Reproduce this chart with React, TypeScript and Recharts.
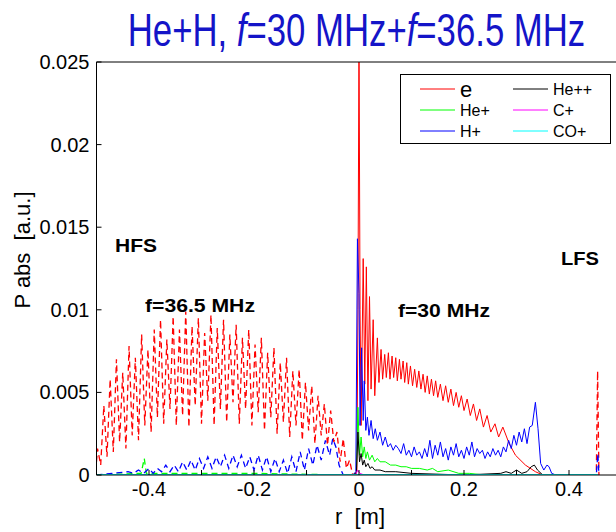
import React from 'react'
import { LineChart, Line, XAxis, YAxis } from 'recharts'

// r [m], P abs [a.u.] — f=36.5 MHz run (dashed, HFS side)
const eLeft = [
  [-0.5, 0.0008], [-0.498, 0.0016], [-0.492, 0.0006], [-0.486, 0.0042], [-0.48, 0.0011], [-0.474, 0.0058],
  [-0.468, 0.0014], [-0.462, 0.007], [-0.456, 0.002], [-0.45, 0.0062], [-0.444, 0.0016], [-0.438, 0.0078],
  [-0.432, 0.0024], [-0.426, 0.0071], [-0.42, 0.0021], [-0.414, 0.0085], [-0.408, 0.003], [-0.402, 0.0076],
  [-0.396, 0.0026], [-0.39, 0.0088], [-0.384, 0.0035], [-0.378, 0.0094], [-0.372, 0.0031], [-0.366, 0.0082],
  [-0.36, 0.004], [-0.354, 0.0096], [-0.348, 0.003], [-0.342, 0.0088], [-0.336, 0.0036], [-0.33, 0.0099],
  [-0.324, 0.0029], [-0.318, 0.009], [-0.312, 0.0042], [-0.306, 0.0095], [-0.3, 0.0031], [-0.294, 0.0086],
  [-0.288, 0.0045], [-0.282, 0.0097], [-0.276, 0.003], [-0.27, 0.0089], [-0.264, 0.004], [-0.258, 0.0094],
  [-0.252, 0.0032], [-0.246, 0.0085], [-0.24, 0.0044], [-0.234, 0.0091], [-0.228, 0.0031], [-0.222, 0.0083],
  [-0.216, 0.004], [-0.21, 0.0088], [-0.204, 0.003], [-0.198, 0.0079], [-0.192, 0.0038], [-0.186, 0.0083],
  [-0.18, 0.0027], [-0.174, 0.0074], [-0.168, 0.0035], [-0.162, 0.0077], [-0.156, 0.0025], [-0.15, 0.0068],
  [-0.144, 0.0032], [-0.138, 0.0071], [-0.132, 0.0023], [-0.126, 0.0063], [-0.12, 0.003], [-0.114, 0.0064],
  [-0.108, 0.0021], [-0.102, 0.0056], [-0.096, 0.0027], [-0.09, 0.0054], [-0.084, 0.0019], [-0.078, 0.0048],
  [-0.072, 0.0024], [-0.066, 0.0043], [-0.06, 0.0018], [-0.054, 0.0039], [-0.048, 0.002], [-0.042, 0.0026],
  [-0.036, 0.0008], [-0.03, 0.0022], [-0.024, 0.0004], [-0.018, 0.0009], [-0.012, 0],
  [0.452, 0], [0.4545, 0.0063], [0.457, 0],
]
const hpLeft = [
  [-0.5, 0], [-0.47, 0.0001], [-0.44, 0.0002], [-0.43, 0.0001], [-0.42, 0.0003], [-0.41, 0.0001], [-0.4, 0.0004],
  [-0.392, 0.0001], [-0.384, 0.0004], [-0.376, 0.0002], [-0.368, 0.0006], [-0.36, 0.0002], [-0.352, 0.0006],
  [-0.344, 0.0002], [-0.336, 0.0008], [-0.328, 0.0003], [-0.32, 0.0009], [-0.312, 0.0003], [-0.304, 0.001],
  [-0.296, 0.0004], [-0.288, 0.0011], [-0.28, 0.0004], [-0.272, 0.0011], [-0.264, 0.0005], [-0.256, 0.0012],
  [-0.248, 0.0004], [-0.24, 0.0012], [-0.232, 0.0005], [-0.224, 0.0012], [-0.216, 0.0004], [-0.208, 0.0011],
  [-0.2, 0.0003], [-0.192, 0.0012], [-0.184, 0.0003], [-0.176, 0.0011], [-0.168, 0.0002], [-0.16, 0.001],
  [-0.152, 0.0002], [-0.144, 0.0009], [-0.136, 0.0001], [-0.128, 0.0011], [-0.12, 0.0002], [-0.112, 0.0014],
  [-0.104, 0.0003], [-0.096, 0.0016], [-0.088, 0.0006], [-0.08, 0.0018], [-0.072, 0.0009], [-0.064, 0.0021],
  [-0.056, 0.0012], [-0.05, 0.0022], [-0.044, 0.0017], [-0.038, 0.0006], [-0.03, 0],
  [0.452, 0], [0.455, 0.0013], [0.457, 0],
]
const hePLeft = [
  [-0.5, 0], [-0.415, 0.0001], [-0.409, 0.001], [-0.405, 0.0001], [-0.3, 0.0001], [-0.2, 0.0001], [-0.03, 0],
]

// f=30 MHz run (solid, LFS side)
const eRight = [
  [-0.012, 0], [-0.004, 0.0002], [-0.002, 0.01], [0, 0.027], [0.002, 0.01], [0.004, 0.003],
  [0.008, 0.0131], [0.011, 0.0055], [0.014, 0.0126], [0.017, 0.0045], [0.02, 0.0108], [0.023, 0.0052],
  [0.027, 0.0094], [0.03, 0.0048], [0.035, 0.0083], [0.038, 0.0056], [0.042, 0.0076], [0.045, 0.0058],
  [0.049, 0.0073], [0.052, 0.0059], [0.056, 0.0074], [0.059, 0.0058], [0.063, 0.0072], [0.066, 0.0059],
  [0.07, 0.0071], [0.073, 0.0057], [0.077, 0.007], [0.08, 0.0058], [0.084, 0.0069], [0.087, 0.0056],
  [0.091, 0.0068], [0.094, 0.0055], [0.098, 0.0066], [0.102, 0.0054], [0.106, 0.0064], [0.11, 0.0053],
  [0.114, 0.0063], [0.118, 0.0052], [0.122, 0.0061], [0.126, 0.005], [0.13, 0.006], [0.134, 0.0049],
  [0.138, 0.0058], [0.142, 0.0048], [0.146, 0.0057], [0.15, 0.0047], [0.155, 0.0055], [0.16, 0.0045],
  [0.165, 0.0054], [0.17, 0.0044], [0.175, 0.0052], [0.18, 0.0042], [0.185, 0.005], [0.19, 0.0041],
  [0.195, 0.0048], [0.2, 0.0039], [0.206, 0.0046], [0.212, 0.0036], [0.218, 0.0043], [0.224, 0.0033],
  [0.23, 0.004], [0.237, 0.0029], [0.244, 0.0036], [0.251, 0.0026], [0.259, 0.0031], [0.266, 0.0023],
  [0.274, 0.0029], [0.286, 0.0019], [0.298, 0.0012], [0.317, 0.0006], [0.336, 0.0002], [0.35, 0], [0.44, 0],
]
const hpRight = [
  [-0.012, 0], [-0.006, 0.0002], [-0.003, 0.0143], [0, 0.011], [0.002, 0.003], [0.005, 0.0077],
  [0.008, 0.0033], [0.01, 0.0057], [0.013, 0.0027], [0.016, 0.0035], [0.019, 0.0024], [0.023, 0.0033],
  [0.027, 0.0022], [0.031, 0.0028], [0.035, 0.0021], [0.04, 0.0026], [0.045, 0.0018], [0.05, 0.0023],
  [0.055, 0.0017], [0.06, 0.0019], [0.065, 0.0015], [0.07, 0.0018], [0.075, 0.0016], [0.08, 0.0013],
  [0.085, 0.0019], [0.09, 0.0012], [0.095, 0.0015], [0.1, 0.0011], [0.105, 0.0017], [0.11, 0.0012],
  [0.115, 0.0014], [0.12, 0.001], [0.125, 0.0016], [0.13, 0.0011], [0.135, 0.0021], [0.14, 0.001],
  [0.145, 0.0018], [0.15, 0.0012], [0.155, 0.002], [0.16, 0.0011], [0.165, 0.0016], [0.17, 0.0009],
  [0.175, 0.0017], [0.18, 0.0012], [0.185, 0.0019], [0.19, 0.0011], [0.195, 0.0015], [0.2, 0.001],
  [0.205, 0.0017], [0.21, 0.0012], [0.215, 0.002], [0.22, 0.0011], [0.225, 0.0016], [0.23, 0.0013],
  [0.235, 0.0015], [0.24, 0.001], [0.245, 0.0014], [0.25, 0.0011], [0.255, 0.0016], [0.26, 0.0012],
  [0.265, 0.0015], [0.27, 0.0011], [0.275, 0.0017], [0.28, 0.0014], [0.285, 0.0021], [0.29, 0.0016],
  [0.295, 0.0024], [0.3, 0.0018], [0.305, 0.0026], [0.31, 0.002], [0.315, 0.0028], [0.32, 0.0019],
  [0.325, 0.0029], [0.33, 0.003], [0.336, 0.0044], [0.341, 0.0028], [0.346, 0.0007], [0.352, 0.0003],
  [0.358, 0.0006], [0.362, 0.0005], [0.367, 0.0001], [0.375, 0], [0.445, 0],
]
const hePRight = [
  [-0.012, 0], [-0.005, 0.0001], [-0.002, 0.0041], [0.001, 0.0012], [0.004, 0.0023], [0.007, 0.0011],
  [0.01, 0.0017], [0.013, 0.001], [0.016, 0.0014], [0.02, 0.0009], [0.025, 0.0012], [0.03, 0.0008],
  [0.035, 0.001], [0.04, 0.0008], [0.05, 0.0008], [0.06, 0.0006], [0.07, 0.0006], [0.08, 0.0005],
  [0.09, 0.0005], [0.1, 0.0004], [0.115, 0.0004], [0.13, 0.0003], [0.14, 0.0004], [0.15, 0.0002],
  [0.17, 0.0003], [0.19, 0.0001], [0.21, 0.0001], [0.24, 0], [0.44, 0],
]
const hePPRight = [
  [-0.012, 0], [-0.005, 0.0001], [-0.002, 0.0026], [0.001, 0.0008], [0.004, 0.0013], [0.007, 0.0006],
  [0.01, 0.0009], [0.013, 0.0005], [0.017, 0.0007], [0.021, 0.0004], [0.025, 0.0005], [0.03, 0.0003],
  [0.04, 0.0003], [0.05, 0.0002], [0.07, 0.0002], [0.1, 0.0001], [0.2, 0], [0.27, 0.0001], [0.28, 0.0002],
  [0.29, 0.0001], [0.3, 0.0003], [0.31, 0.0001], [0.32, 0.0002], [0.328, 0.0005], [0.334, 0.0006],
  [0.34, 0.0003], [0.35, 0], [0.44, 0],
]
const cPlus = [[-0.5, 0], [-0.006, 0], [-0.003, 0.0003], [0.002, 0.0001], [0.01, 0], [0.45, 0]]
const coPlus = [[-0.5, 0], [0.455, 0]]

const xTicks = [-0.4, -0.3, -0.2, -0.1, 0, 0.1, 0.2, 0.3, 0.4]
const yTicks = [0, 0.005, 0.01, 0.015, 0.02, 0.025]

const legendItems = [
  { name: 'e', color: '#ff0000' },
  { name: 'He+', color: '#00ff00' },
  { name: 'H+', color: '#0000ff' },
  { name: 'He++', color: '#000000' },
  { name: 'C+', color: '#ff00ff' },
  { name: 'CO+', color: '#00ffff' },
]

const FONT = '"Liberation Sans", Arial, Helvetica, sans-serif'
const pts = (a: number[][]) => a.map(([x, y]) => ({ x, y }))

const XTick = (props: any) => {
  const { x, y, payload } = props
  const v = payload.value
  const labelled = Math.round(v * 10) % 2 === 0
  return (
    <g>
      <line x1={x} y1={y} x2={x} y2={y - 5} stroke="#000" />
      {labelled && (
        <text x={x} y={y + 21} textAnchor="middle" fontSize={20} fontFamily={FONT} fill="#000">
          {String(v)}
        </text>
      )}
    </g>
  )
}

const TopTick = (props: any) => {
  const { x, y } = props
  return <line x1={x} y1={y} x2={x} y2={y + 5} stroke="#000" />
}

const YTick = (props: any) => {
  const { x, y, payload } = props
  return (
    <g>
      <line x1={x} y1={y} x2={x + 5} y2={y} stroke="#000" />
      <text x={x - 7} y={y} textAnchor="end" dominantBaseline="central" fontSize={20} fontFamily={FONT} fill="#000">
        {String(payload.value)}
      </text>
    </g>
  )
}

export default function App() {
  return (
    <div style={{ position: 'absolute', left: 0, top: 0, width: 616, height: 532, overflow: 'hidden', background: '#fff' }}>
      <LineChart width={640} height={532} margin={{ top: 42, right: 18.5, left: 36.5, bottom: 27 }}>
        <XAxis
          type="number"
          dataKey="x"
          domain={[-0.5, 0.5]}
          ticks={xTicks}
          allowDataOverflow
          height={30}
          tickSize={0}
          tickMargin={0}
          tickLine={false}
          tick={<XTick />}
          axisLine={{ stroke: '#000' }}
        />
        <XAxis
          xAxisId="top"
          orientation="top"
          type="number"
          domain={[-0.5, 0.5]}
          ticks={xTicks}
          allowDataOverflow
          height={20}
          tickSize={0}
          tickMargin={0}
          tickLine={false}
          tick={<TopTick />}
          axisLine={{ stroke: '#000' }}
        />
        <YAxis
          type="number"
          domain={[0, 0.025]}
          ticks={yTicks}
          allowDataOverflow
          width={60}
          tickSize={0}
          tickMargin={0}
          tickLine={false}
          tick={<YTick />}
          axisLine={{ stroke: '#000' }}
        />
        {/* 36.5 MHz, dashed */}
        <Line data={pts(eLeft)} dataKey="y" type="linear" stroke="#ff0000" strokeWidth={1.3} strokeDasharray="6 4" dot={false} isAnimationActive={false} />
        <Line data={pts(hePLeft)} dataKey="y" type="linear" stroke="#00ff00" strokeWidth={1.3} strokeDasharray="6 4" dot={false} isAnimationActive={false} />
        <Line data={pts(hpLeft)} dataKey="y" type="linear" stroke="#0000ff" strokeWidth={1.3} strokeDasharray="6 4" dot={false} isAnimationActive={false} />
        {/* 30 MHz, solid */}
        <Line data={pts(eRight)} dataKey="y" type="linear" stroke="#ff0000" strokeWidth={1} dot={false} isAnimationActive={false} />
        <Line data={pts(hePRight)} dataKey="y" type="linear" stroke="#00ff00" strokeWidth={1} dot={false} isAnimationActive={false} />
        <Line data={pts(hpRight)} dataKey="y" type="linear" stroke="#0000ff" strokeWidth={1} dot={false} isAnimationActive={false} />
        <Line data={pts(hePPRight)} dataKey="y" type="linear" stroke="#000000" strokeWidth={1} dot={false} isAnimationActive={false} />
        <Line data={pts(cPlus)} dataKey="y" type="linear" stroke="#ff00ff" strokeWidth={1} dot={false} isAnimationActive={false} />
        <Line data={pts(coPlus)} dataKey="y" type="linear" stroke="#00ffff" strokeWidth={2} dot={false} isAnimationActive={false} />
      </LineChart>

      <svg width={616} height={532} style={{ position: 'absolute', left: 0, top: 0, pointerEvents: 'none' }}>
        {/* narrow title: plain Liberation Sans squeezed horizontally */}
        <g transform="translate(356.5, 46) scale(0.755, 1)">
          <text x={0} y={0} textAnchor="middle" fontSize={46} fontFamily={FONT} fill="#1414c8">
            He+H, <tspan fontStyle="italic">f</tspan>=30 MHz+<tspan fontStyle="italic">f</tspan>=36.5 MHz
          </text>
        </g>

        <text
          x={30}
          y={250}
          transform="rotate(-90, 30, 250)"
          textAnchor="middle"
          fontSize={22}
          fontFamily={FONT}
          fill="#000"
          style={{ whiteSpace: 'pre' }}
        >
          {'P abs  [a.u.]'}
        </text>
        <text x={360} y={524} textAnchor="middle" fontSize={22} fontFamily={FONT} fill="#000" style={{ whiteSpace: 'pre' }}>
          {'r  [m]'}
        </text>

        <g fontFamily={FONT} fontWeight="bold" fontSize={18} fill="#000">
          <text x={115} y={252} textLength={42} lengthAdjust="spacingAndGlyphs">HFS</text>
          <text x={145} y={312} textLength={110} lengthAdjust="spacingAndGlyphs">f=36.5 MHz</text>
          <text x={398} y={317} textLength={92} lengthAdjust="spacingAndGlyphs">f=30 MHz</text>
          <text x={561} y={265} textLength={38} lengthAdjust="spacingAndGlyphs">LFS</text>
        </g>

        <rect x={400.5} y={74.5} width={210} height={69} fill="#fff" stroke="#000" strokeWidth={1} />
        {legendItems.map((it, i) => {
          const col = Math.floor(i / 3)
          const row = i % 3
          const lx = col === 0 ? 420 : 513
          const cy = 89 + row * 21
          return (
            <g key={it.name}>
              <line x1={lx} y1={cy} x2={lx + 35} y2={cy} stroke={it.color} strokeWidth={1} />
              <text
                x={lx + 40}
                y={cy}
                dominantBaseline="central"
                fontSize={it.name === 'e' ? 22 : 16}
                fontFamily={FONT}
                fill="#000"
              >
                {it.name}
              </text>
            </g>
          )
        })}
      </svg>
    </div>
  )
}
